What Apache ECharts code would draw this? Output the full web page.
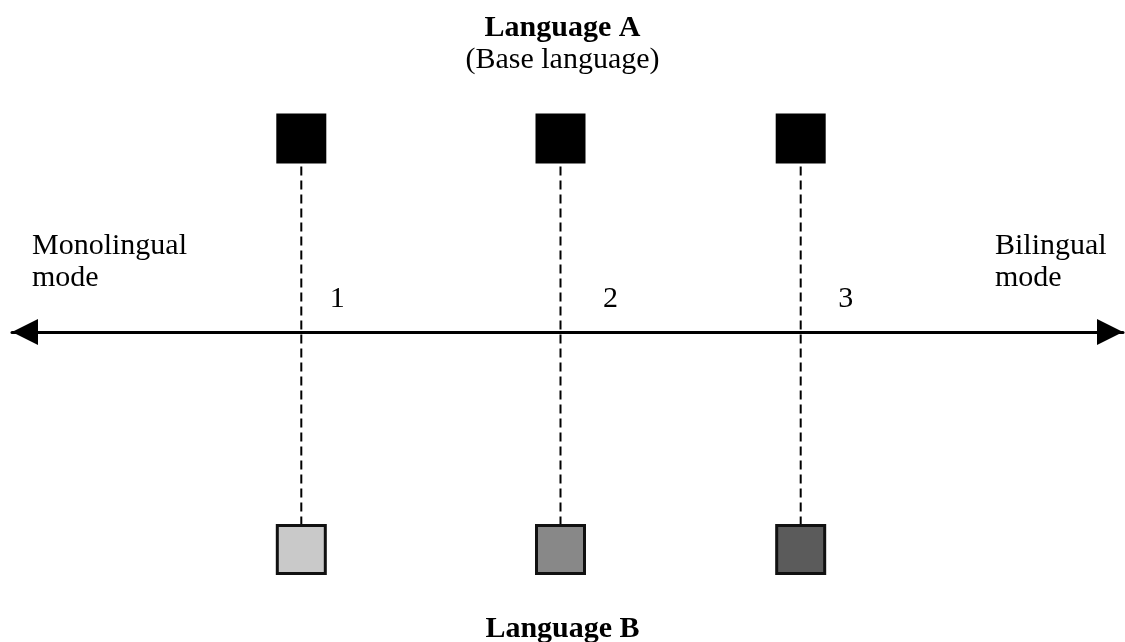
<!DOCTYPE html>
<html>
<head>
<meta charset="utf-8">
<script src="https://cdn.jsdelivr.net/npm/echarts@6/dist/echarts.min.js"></script>
<style>
html,body{margin:0;padding:0;background:#fff;}
#main{width:1125px;height:642px;}
</style>
</head>
<body>
<div id="main"></div>
<script>
// Data
const stageLabels = ['1', '2', '3'];
const stageModeValues = [0.2604, 0.4937, 0.7099]; // position on monolingual(0) -> bilingual(1) continuum
const languageARow = 1;
const languageBRow = -1.124;
const languageAColors = ['#000000', '#000000', '#000000'];
const languageBColors = ['#c9c9c9', '#888888', '#5b5b5b'];
const topTitle = 'Language A';
const topSubtitle = '(Base language)';
const bottomTitle = 'Language B';
const leftEndLabel = 'Monolingual\nmode';
const rightEndLabel = 'Bilingual\nmode';

const FONT = '"Liberation Serif", "Times New Roman", serif';
const labelOffsets = [[36, -33], [50, -33], [45, -33]];

const chart = echarts.init(document.getElementById('main'), null, {renderer: 'canvas'});

const option = {
  animation: false,
  backgroundColor: '#ffffff',
  title: [
    {text: topTitle, left: 'center', top: 8, textStyle: {fontFamily: FONT, fontSize: 30, fontWeight: 'bold', color: '#000'}},
    {text: topSubtitle, left: 'center', top: 40, textStyle: {fontFamily: FONT, fontSize: 30, fontWeight: 'normal', color: '#000'}},
    {text: bottomTitle, left: 'center', top: 609, textStyle: {fontFamily: FONT, fontSize: 30, fontWeight: 'bold', color: '#000'}},
    {text: leftEndLabel, left: 27, top: 225, textStyle: {fontFamily: FONT, fontSize: 30, fontWeight: 'normal', color: '#000', lineHeight: 32}},
    {text: rightEndLabel, left: 990, top: 225, textStyle: {fontFamily: FONT, fontSize: 30, fontWeight: 'normal', color: '#000', lineHeight: 32}}
  ],
  grid: {left: 12, right: 2, top: 138.5, bottom: 92.5},
  xAxis: {
    type: 'value', min: 0, max: 1,
    axisLine: {show: true, onZero: true, symbol: ['triangle', 'triangle'], symbolSize: [26, 26], symbolOffset: [13, -13], lineStyle: {color: '#000', width: 3}},
    axisTick: {show: false}, axisLabel: {show: false}, splitLine: {show: false}
  },
  yAxis: {
    type: 'value', min: languageBRow, max: languageARow,
    axisLine: {show: false}, axisTick: {show: false}, axisLabel: {show: false}, splitLine: {show: false}
  },
  series: [
    {
      type: 'custom',
      z: 1,
      data: stageModeValues.map(v => [v]),
      renderItem: function (params, api) {
        const v = api.value(0);
        const p1 = api.coord([v, languageARow]);
        const p2 = api.coord([v, languageBRow]);
        return {
          type: 'line',
          shape: {x1: p1[0], y1: p1[1], x2: p2[0], y2: p2[1]},
          style: {stroke: '#000', lineWidth: 2, lineDash: [9, 5]}
        };
      }
    },
    {
      type: 'scatter',
      z: 3,
      symbol: 'rect',
      symbolSize: 50,
      itemStyle: {opacity: 1},
      data: stageModeValues.map((v, i) => ({value: [v, languageARow], itemStyle: {color: languageAColors[i], opacity: 1}}))
    },
    {
      type: 'scatter',
      z: 3,
      symbol: 'rect',
      symbolSize: 48,
      itemStyle: {opacity: 1},
      data: stageModeValues.map((v, i) => ({value: [v, languageBRow], itemStyle: {color: languageBColors[i], borderColor: '#111', borderWidth: 3, opacity: 1}}))
    },
    {
      type: 'scatter',
      z: 4,
      symbolSize: 0,
      itemStyle: {opacity: 1},
      data: stageModeValues.map((v, i) => ({value: [v, 0], name: stageLabels[i], label: {offset: labelOffsets[i]}})),
      label: {
        show: true, position: 'inside',
        formatter: p => p.name,
        fontFamily: FONT, fontSize: 30, color: '#000', opacity: 1
      }
    }
  ]
};
chart.setOption(option);
</script>
</body>
</html>
